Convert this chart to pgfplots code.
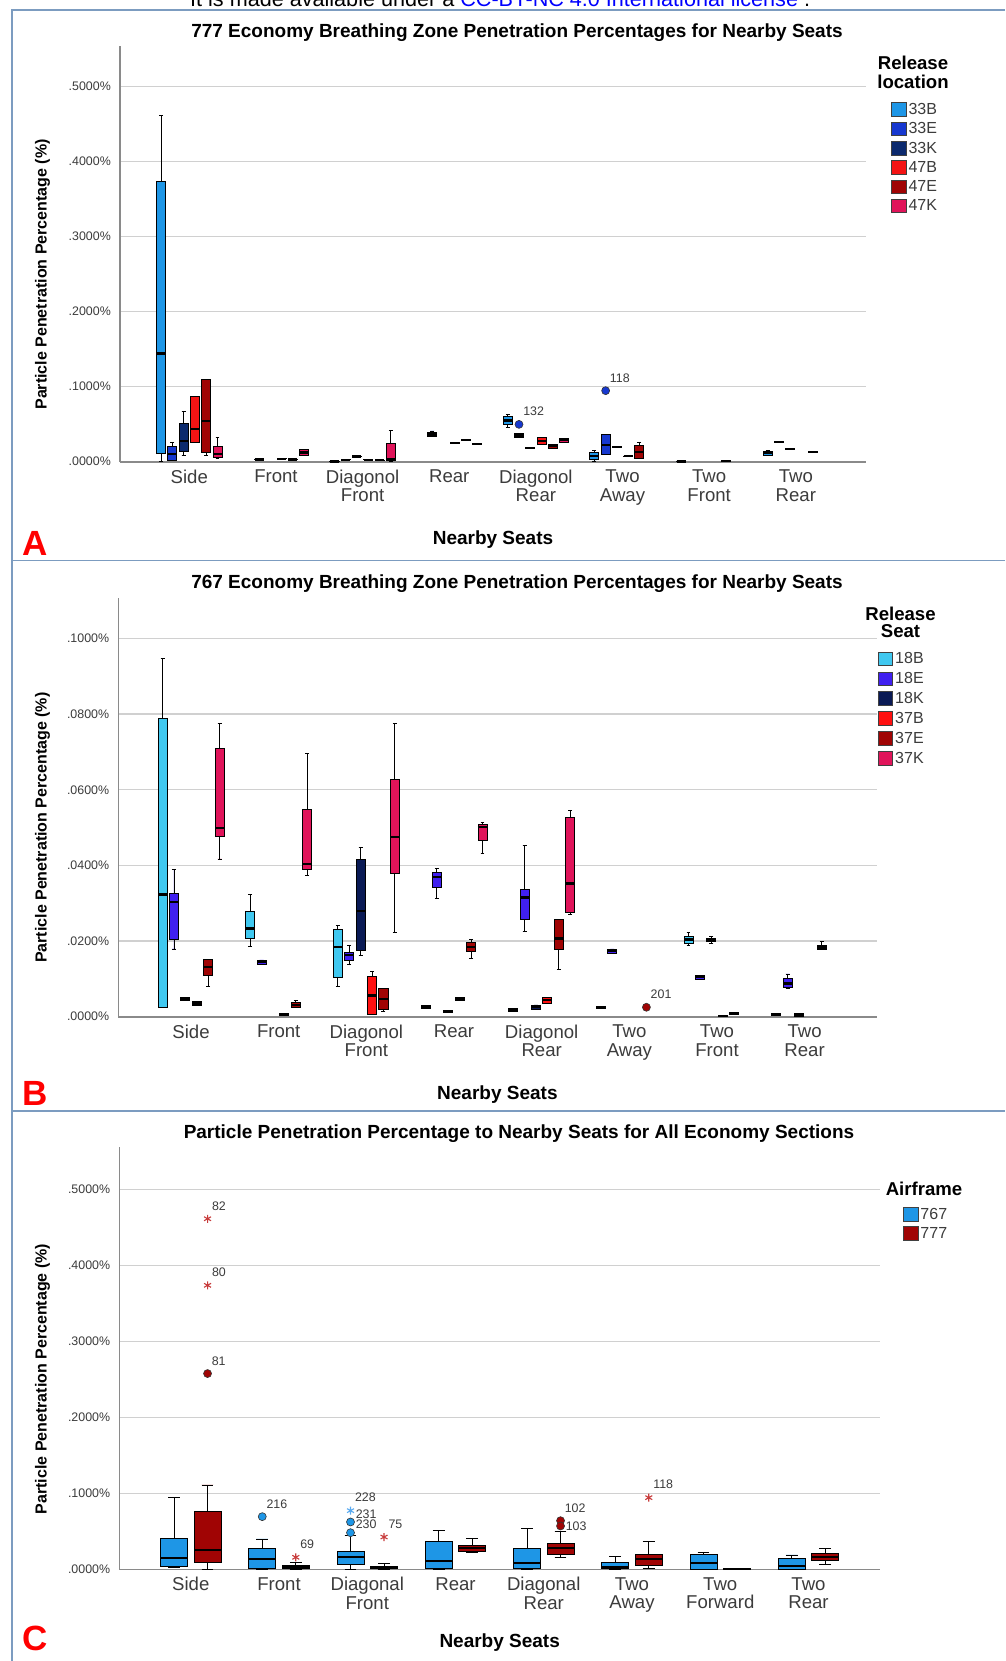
\documentclass[border=0pt]{standalone}
\usepackage{fontspec}
\setmainfont{Liberation Sans}
\usepackage{pgfplots}
\pgfplotsset{compat=1.18}
\usepgfplotslibrary{statistics}
\usetikzlibrary{plotmarks}

\definecolor{cAa}{HTML}{1E96E6}
\definecolor{cAb}{HTML}{1638D0}
\definecolor{cAc}{HTML}{0C2A6E}
\definecolor{cAd}{HTML}{F41414}
\definecolor{cAe}{HTML}{A00404}
\definecolor{cAf}{HTML}{E0145A}
\definecolor{cBa}{HTML}{40C8F0}
\definecolor{cBb}{HTML}{4020F0}
\definecolor{cBc}{HTML}{0A1A55}
\definecolor{cBd}{HTML}{FF1010}
\definecolor{cBe}{HTML}{A00404}
\definecolor{cBf}{HTML}{E0145A}
\definecolor{c767}{HTML}{1E96E6}
\definecolor{c777}{HTML}{A00404}
\definecolor{frm}{HTML}{7C9CC0}
\definecolor{grd}{HTML}{D0D0D0}
\definecolor{axc}{HTML}{8A8A8A}
\definecolor{txt}{HTML}{3C3C3C}
\definecolor{strc}{HTML}{C83C3C}
\definecolor{strb}{HTML}{5AAAF0}

\newcommand{\titfont}{\fontsize{19}{22}\selectfont\bfseries}
\newcommand{\ylabfont}{\fontsize{16}{18}\selectfont\bfseries}
\newcommand{\catfont}{\fontsize{18.6}{18.5}\selectfont}
\newcommand{\tickfont}{\fontsize{12.4}{14}\selectfont}
\newcommand{\legfont}{\fontsize{16}{16}\selectfont}
\newcommand{\legtitfont}{\fontsize{18.6}{20}\selectfont\bfseries}

% colour, position, lower whisker, q1, median, q3, upper whisker
\newcommand{\bx}[7]{\addplot[forget plot, draw=black, line width=0.9pt, fill=#1,
  boxplot prepared={draw position=#2, lower whisker=#3, lower quartile=#4,
  median=#5, upper quartile=#6, upper whisker=#7}] coordinates {};}

\pgfplotsset{panel/.style={
  scale only axis, anchor=south west,
  axis x line*=bottom, axis y line*=left,
  axis line style={axc, line width=1.6pt, -},
  major tick length=0pt,
  scaled y ticks=false, scaled x ticks=false,
  ymajorgrids, grid style={grd, line width=1.5pt},
  ymin=0, clip=false, xtick={0,...,7},
  boxplot/draw direction=y,
  xticklabel style={font=\catfont, text=txt, align=center, inner sep=0pt, yshift=-8pt},
  yticklabel style={font=\tickfont, text=txt, inner sep=0pt, xshift=-9pt},
  boxplot/every median/.style={line width=2.2pt},
  legend image code/.code={\draw[##1, draw=black!75, line width=0.8pt] (0pt,-6.8pt) rectangle (14.5pt,6.8pt);},
  legend cell align=left,
  legend style={draw=none, fill=none, inner sep=0pt, font=\legfont, text=txt,
    anchor=north west, /tikz/every even column/.append style={column sep=1.5pt}},
  outl/.style={forget plot, only marks, nodes near coords, point meta=explicit symbolic,
    every node near coord/.append style={font=\tickfont, text=txt, anchor=south west,
    inner sep=0pt, xshift=4pt, yshift=8pt}},
}}

\begin{document}
\begin{tikzpicture}
\fill[white] (0,0) rectangle (1005pt,-1661pt);

% ---------------- panel A ----------------
\begin{axis}[panel, at={(120pt,-461.7pt)}, width=746pt, height=415.7pt,
  xmin=-0.8, xmax=7.81, ymax=0.5543,
  xticklabels={Side, Front, {Diagonol\\Front}, Rear, {Diagonol\\Rear}, {Two\\Away}, {Two\\Front}, {Two\\Rear}},
  ytick={0,0.1,0.2,0.3,0.4,0.5},
  yticklabels={.0000\%,.1000\%,.2000\%,.3000\%,.4000\%,.5000\%},
  boxplot/box extend=0.104, boxplot/whisker extend=0.045,
  legend style={at={(axis description cs:1.0335,0.8677)}, row sep=2.7pt}]
\bx{cAa}{-0.325}{0}{0.0111}{0.1444}{0.3735}{0.4614}
\bx{cAb}{-0.195}{0.0015}{0.0022}{0.0098}{0.0200}{0.0253}
\bx{cAc}{-0.065}{0.0089}{0.0142}{0.0280}{0.0511}{0.0676}
\bx{cAd}{0.065}{0.0253}{0.0253}{0.0436}{0.0867}{0.0867}
\bx{cAe}{0.195}{0.0080}{0.0120}{0.0547}{0.1098}{0.1098}
\bx{cAf}{0.325}{0.0044}{0.0058}{0.0098}{0.0209}{0.0320}
\bx{cAb}{0.805}{0.0028}{0.0028}{0.0030}{0.0033}{0.0033}
\bx{cAd}{1.065}{0.0037}{0.0037}{0.0040}{0.0043}{0.0043}
\bx{cAe}{1.195}{0.0027}{0.0027}{0.0030}{0.0033}{0.0033}
\bx{cAf}{1.325}{0.0089}{0.0089}{0.0124}{0.0164}{0.0164}
\bx{cAa}{1.675}{0.0001}{0.0001}{0.0003}{0.0005}{0.0005}
\bx{cAb}{1.805}{0.0025}{0.0025}{0.0027}{0.0030}{0.0030}
\bx{cAc}{1.935}{0.0067}{0.0067}{0.0070}{0.0073}{0.0073}
\bx{cAd}{2.065}{0.0025}{0.0025}{0.0027}{0.0030}{0.0030}
\bx{cAe}{2.195}{0.0018}{0.0018}{0.0020}{0.0023}{0.0023}
\bx{cAf}{2.325}{0.0005}{0.0013}{0.0036}{0.0244}{0.0420}
\bx{cAb}{2.805}{0.0333}{0.0340}{0.0364}{0.0387}{0.0410}
\bx{cAd}{3.065}{0.0249}{0.0249}{0.0253}{0.0258}{0.0258}
\bx{cAe}{3.195}{0.0280}{0.0283}{0.0289}{0.0295}{0.0298}
\bx{cAf}{3.325}{0.0232}{0.0232}{0.0236}{0.0240}{0.0240}
\bx{cAa}{3.675}{0.0453}{0.0502}{0.0550}{0.0600}{0.0631}
\bx{cAb}{3.805}{0.0320}{0.0320}{0.0350}{0.0378}{0.0378}
\bx{cAc}{3.935}{0.0178}{0.0178}{0.0182}{0.0186}{0.0186}
\bx{cAd}{4.065}{0.0236}{0.0236}{0.0280}{0.0324}{0.0324}
\bx{cAe}{4.195}{0.0178}{0.0182}{0.0209}{0.0236}{0.0236}
\bx{cAf}{4.325}{0.0253}{0.0253}{0.0289}{0.0316}{0.0316}
\bx{cAa}{4.675}{0.0010}{0.0036}{0.0080}{0.0120}{0.0147}
\bx{cAb}{4.805}{0.0102}{0.0102}{0.0218}{0.0364}{0.0364}
\bx{cAc}{4.935}{0.0192}{0.0192}{0.0196}{0.0200}{0.0200}
\bx{cAd}{5.065}{0.0067}{0.0067}{0.0071}{0.0075}{0.0075}
\bx{cAe}{5.195}{0.0044}{0.0044}{0.0133}{0.0222}{0.0253}
\bx{cAa}{5.675}{0.0001}{0.0001}{0.0004}{0.0007}{0.0007}
\bx{cAe}{6.195}{0.0006}{0.0006}{0.0010}{0.0014}{0.0014}
\bx{cAa}{6.675}{0.0084}{0.0090}{0.0116}{0.0138}{0.0147}
\bx{cAb}{6.805}{0.0263}{0.0263}{0.0267}{0.0271}{0.0271}
\bx{cAc}{6.935}{0.0165}{0.0165}{0.0169}{0.0173}{0.0173}
\bx{cAe}{7.195}{0.0125}{0.0125}{0.0129}{0.0133}{0.0133}
\addplot[outl, mark=*, mark size=4pt, mark options={fill=cAb, draw=black!80, line width=0.6pt}]
  coordinates {(3.805,0.0498) [132] (4.805,0.0947) [118]};
\addlegendimage{fill=cAa}\addlegendentry{33B}
\addlegendimage{fill=cAb}\addlegendentry{33E}
\addlegendimage{fill=cAc}\addlegendentry{33K}
\addlegendimage{fill=cAd}\addlegendentry{47B}
\addlegendimage{fill=cAe}\addlegendentry{47E}
\addlegendimage{fill=cAf}\addlegendentry{47K}
\end{axis}

% ---------------- panel B ----------------
\begin{axis}[panel, at={(118.3pt,-1016.7pt)}, width=758.2pt, height=419pt,
  xmin=-0.83, xmax=7.82, ymax=0.11076,
  xticklabels={Side, Front, {Diagonol\\Front}, Rear, {Diagonol\\Rear}, {Two\\Away}, {Two\\Front}, {Two\\Rear}},
  ytick={0,0.02,0.04,0.06,0.08,0.1},
  yticklabels={.0000\%,.0200\%,.0400\%,.0600\%,.0800\%,.1000\%},
  boxplot/box extend=0.103, boxplot/whisker extend=0.045,
  legend style={at={(axis description cs:1.0016,0.8745)}, row sep=3.2pt}]
\bx{cBa}{-0.325}{0.0024}{0.0024}{0.0323}{0.0789}{0.0947}
\bx{cBb}{-0.195}{0.0179}{0.0203}{0.0304}{0.0325}{0.0389}
\bx{cBc}{-0.065}{0.0044}{0.0044}{0.0047}{0.0050}{0.0050}
\bx{cBd}{0.065}{0.0029}{0.0029}{0.0035}{0.0041}{0.0041}
\bx{cBe}{0.195}{0.0079}{0.0108}{0.0132}{0.0152}{0.0152}
\bx{cBf}{0.325}{0.0417}{0.0476}{0.0498}{0.0709}{0.0775}
\bx{cBa}{0.675}{0.0185}{0.0207}{0.0233}{0.0278}{0.0322}
\bx{cBb}{0.805}{0.0138}{0.0138}{0.0144}{0.0150}{0.0150}
\bx{cBd}{1.065}{0.0003}{0.0003}{0.0006}{0.0009}{0.0009}
\bx{cBe}{1.195}{0.0025}{0.0025}{0.0031}{0.0037}{0.0044}
\bx{cBf}{1.325}{0.0374}{0.0389}{0.0403}{0.0549}{0.0695}
\bx{cBa}{1.675}{0.0079}{0.0104}{0.0185}{0.0231}{0.0242}
\bx{cBb}{1.805}{0.0137}{0.0150}{0.0163}{0.0169}{0.0188}
\bx{cBc}{1.935}{0.0163}{0.0174}{0.0279}{0.0417}{0.0448}
\bx{cBd}{2.065}{0.0006}{0.0006}{0.0056}{0.0106}{0.0119}
\bx{cBe}{2.195}{0.0013}{0.0018}{0.0047}{0.0075}{0.0075}
\bx{cBf}{2.325}{0.0223}{0.0379}{0.0476}{0.0626}{0.0774}
\bx{cBa}{2.675}{0.0023}{0.0023}{0.0026}{0.0029}{0.0029}
\bx{cBb}{2.805}{0.0313}{0.0341}{0.0370}{0.0381}{0.0392}
\bx{cBc}{2.935}{0.0010}{0.0010}{0.0013}{0.0016}{0.0016}
\bx{cBd}{3.065}{0.0044}{0.0044}{0.0047}{0.0050}{0.0050}
\bx{cBe}{3.195}{0.0154}{0.0172}{0.0185}{0.0196}{0.0203}
\bx{cBf}{3.325}{0.0432}{0.0467}{0.0502}{0.0507}{0.0514}
\bx{cBa}{3.675}{0.0015}{0.0015}{0.0019}{0.0022}{0.0022}
\bx{cBb}{3.805}{0.0225}{0.0257}{0.0315}{0.0337}{0.0452}
\bx{cBc}{3.935}{0.0019}{0.0019}{0.0025}{0.0031}{0.0031}
\bx{cBd}{4.065}{0.0035}{0.0035}{0.0044}{0.0050}{0.0050}
\bx{cBe}{4.195}{0.0126}{0.0179}{0.0207}{0.0257}{0.0257}
\bx{cBf}{4.325}{0.0269}{0.0276}{0.0352}{0.0526}{0.0544}
\bx{cBa}{4.675}{0.0021}{0.0021}{0.0024}{0.0027}{0.0027}
\bx{cBb}{4.805}{0.0168}{0.0168}{0.0174}{0.0179}{0.0179}
\bx{cBa}{5.675}{0.0188}{0.0194}{0.0204}{0.0213}{0.0223}
\bx{cBb}{5.805}{0.0099}{0.0099}{0.0104}{0.0110}{0.0110}
\bx{cBc}{5.935}{0.0194}{0.0198}{0.0203}{0.0208}{0.0211}
\bx{cBd}{6.065}{0.0000}{0.0000}{0.0001}{0.0003}{0.0003}
\bx{cBe}{6.195}{0.0006}{0.0006}{0.0009}{0.0012}{0.0012}
\bx{cBa}{6.675}{0.0003}{0.0003}{0.0006}{0.0009}{0.0009}
\bx{cBb}{6.805}{0.0075}{0.0077}{0.0088}{0.0100}{0.0113}
\bx{cBc}{6.935}{0.0002}{0.0002}{0.0005}{0.0008}{0.0008}
\bx{cBe}{7.195}{0.0178}{0.0178}{0.0183}{0.0189}{0.0198}
\addplot[outl, mark=*, mark size=4pt, mark options={fill=cBe, draw=black!80, line width=0.6pt}]
  coordinates {(5.195,0.0025) [201]};
\addlegendimage{fill=cBa}\addlegendentry{18B}
\addlegendimage{fill=cBb}\addlegendentry{18E}
\addlegendimage{fill=cBc}\addlegendentry{18K}
\addlegendimage{fill=cBd}\addlegendentry{37B}
\addlegendimage{fill=cBe}\addlegendentry{37E}
\addlegendimage{fill=cBf}\addlegendentry{37K}
\end{axis}

% ---------------- panel C ----------------
\begin{axis}[panel, at={(119.3pt,-1569.3pt)}, width=760.7pt, height=422pt,
  xmin=-0.81, xmax=7.81, ymax=0.5553,
  xticklabels={Side, Front, {Diagonal\\Front}, Rear, {Diagonal\\Rear}, {Two\\Away}, {Two\\Forward}, {Two\\Rear}},
  ytick={0,0.1,0.2,0.3,0.4,0.5},
  yticklabels={.0000\%,.1000\%,.2000\%,.3000\%,.4000\%,.5000\%},
  boxplot/box extend=0.306, boxplot/whisker extend=0.133,
  legend style={at={(axis description cs:1.0302,0.8609)}, row sep=2.3pt}]
\bx{c767}{-0.19}{0.0022}{0.0035}{0.0154}{0.0412}{0.0943}
\bx{c777}{0.19}{0.0004}{0.0096}{0.0254}{0.0768}{0.1110}
\bx{c767}{0.81}{0.0004}{0.0018}{0.0140}{0.0276}{0.0399}
\bx{c777}{1.19}{0.0004}{0.0013}{0.0035}{0.0057}{0.0088}
\bx{c767}{1.81}{0.0004}{0.0066}{0.0167}{0.0241}{0.0440}
\bx{c777}{2.19}{0.0002}{0.0009}{0.0022}{0.0044}{0.0075}
\bx{c767}{2.81}{0.0004}{0.0013}{0.0110}{0.0368}{0.0513}
\bx{c777}{3.19}{0.0228}{0.0241}{0.0281}{0.0320}{0.0404}
\bx{c767}{3.81}{0.0004}{0.0013}{0.0079}{0.0272}{0.0540}
\bx{c777}{4.19}{0.0154}{0.0202}{0.0276}{0.0338}{0.0496}
\bx{c767}{4.81}{0.0004}{0.0009}{0.0026}{0.0092}{0.0175}
\bx{c777}{5.19}{0.0009}{0.0053}{0.0132}{0.0202}{0.0364}
\bx{c767}{5.81}{0.0000}{0.0004}{0.0079}{0.0193}{0.0219}
\bx{c777}{6.19}{0.0001}{0.0001}{0.0004}{0.0007}{0.0007}
\bx{c767}{6.81}{0.0004}{0.0004}{0.0044}{0.0145}{0.0189}
\bx{c777}{7.19}{0.0070}{0.0123}{0.0167}{0.0215}{0.0272}
\addplot[outl, mark=*, mark size=4pt, mark options={fill=c777, draw=black!80, line width=0.6pt}]
  coordinates {(0.19,0.2576) [81] (4.19,0.0640) [102]};
\addplot[outl, mark=*, mark size=4pt, mark options={fill=c777, draw=black!80, line width=0.6pt},
  every node near coord/.append style={anchor=west, xshift=1pt, yshift=-8pt}]
  coordinates {(4.19,0.0570) [103]};
\addplot[outl, mark=asterisk, mark size=4pt, mark options={draw=strc, line width=1.1pt}]
  coordinates {(0.19,0.3737) [80] (0.19,0.4613) [82] (1.19,0.0158) [69] (2.19,0.0425) [75] (5.19,0.0943) [118]};
\addplot[outl, mark=*, mark size=4pt, mark options={fill=c767, draw=black!80, line width=0.6pt}]
  coordinates {(0.81,0.0693) [216]};
\addplot[outl, mark=*, mark size=4pt, mark options={fill=c767, draw=black!80, line width=0.6pt},
  every node near coord/.append style={anchor=west, xshift=1pt, yshift=0pt}]
  coordinates {(1.81,0.0623) [231] (1.81,0.0482) [230]};
\addplot[outl, mark=asterisk, mark size=4pt, mark options={draw=strb, line width=1.1pt}]
  coordinates {(1.81,0.0772) [228]};
\addlegendimage{fill=c767}\addlegendentry{767}
\addlegendimage{fill=c777}\addlegendentry{777}
\end{axis}

% ---------------- frames and text ----------------
\draw[frm, line width=1.6pt] (11.7pt,-1661pt) -- (11.7pt,-10pt) -- (1005pt,-10pt);
\draw[frm, line width=1.6pt] (11.7pt,-560.5pt) -- (1005pt,-560.5pt);
\draw[frm, line width=1.6pt] (11.7pt,-1110.7pt) -- (1005pt,-1110.7pt);

\node[anchor=base west, inner sep=0pt, font=\fontsize{21.6}{24}\selectfont] at (190pt,-6.5pt)
  {It is made available under a \textcolor{blue}{CC-BY-NC 4.0 International license} .};

\node[anchor=base, inner sep=0pt, font=\titfont] at (517pt,-37.3pt)
  {777 Economy Breathing Zone Penetration Percentages for Nearby Seats};
\node[anchor=base, inner sep=0pt, font=\titfont] at (517pt,-588pt)
  {767 Economy Breathing Zone Penetration Percentages for Nearby Seats};
\node[anchor=base, inner sep=0pt, font=\titfont] at (519pt,-1138.5pt)
  {Particle Penetration Percentage to Nearby Seats for All Economy Sections};

\node[anchor=base, inner sep=0pt, font=\titfont] at (493pt,-544.5pt) {Nearby Seats};
\node[anchor=base, inner sep=0pt, font=\titfont] at (497.4pt,-1099pt) {Nearby Seats};
\node[anchor=base, inner sep=0pt, font=\titfont] at (499.7pt,-1647pt) {Nearby Seats};

\node[rotate=90, inner sep=0pt, font=\ylabfont] at (42.5pt,-274.5pt) {Particle Penetration Percentage (\%)};
\node[rotate=90, inner sep=0pt, font=\ylabfont] at (42.5pt,-827.7pt) {Particle Penetration Percentage (\%)};
\node[rotate=90, inner sep=0pt, font=\ylabfont] at (42.5pt,-1379pt) {Particle Penetration Percentage (\%)};

\node[anchor=base, inner sep=0pt, font=\legtitfont] at (913pt,-70pt) {Release};
\node[anchor=base, inner sep=0pt, font=\legtitfont] at (913pt,-88.3pt) {location};
\node[anchor=base, inner sep=0pt, font=\legtitfont] at (900.5pt,-620pt) {Release};
\node[anchor=base, inner sep=0pt, font=\legtitfont] at (900.5pt,-637.3pt) {Seat};
\node[anchor=base, inner sep=0pt, font=\legtitfont] at (924pt,-1195pt) {Airframe};

\node[anchor=base west, inner sep=0pt, text=red, font=\fontsize{35}{38}\selectfont\bfseries] at (22pt,-555pt) {A};
\node[anchor=base west, inner sep=0pt, text=red, font=\fontsize{35}{38}\selectfont\bfseries] at (22pt,-1105pt) {B};
\node[anchor=base west, inner sep=0pt, text=red, font=\fontsize{35}{38}\selectfont\bfseries] at (22pt,-1650pt) {C};

\pgfresetboundingbox
\path[use as bounding box] (0,0) rectangle (1005pt,-1661pt);
\end{tikzpicture}
\end{document}
